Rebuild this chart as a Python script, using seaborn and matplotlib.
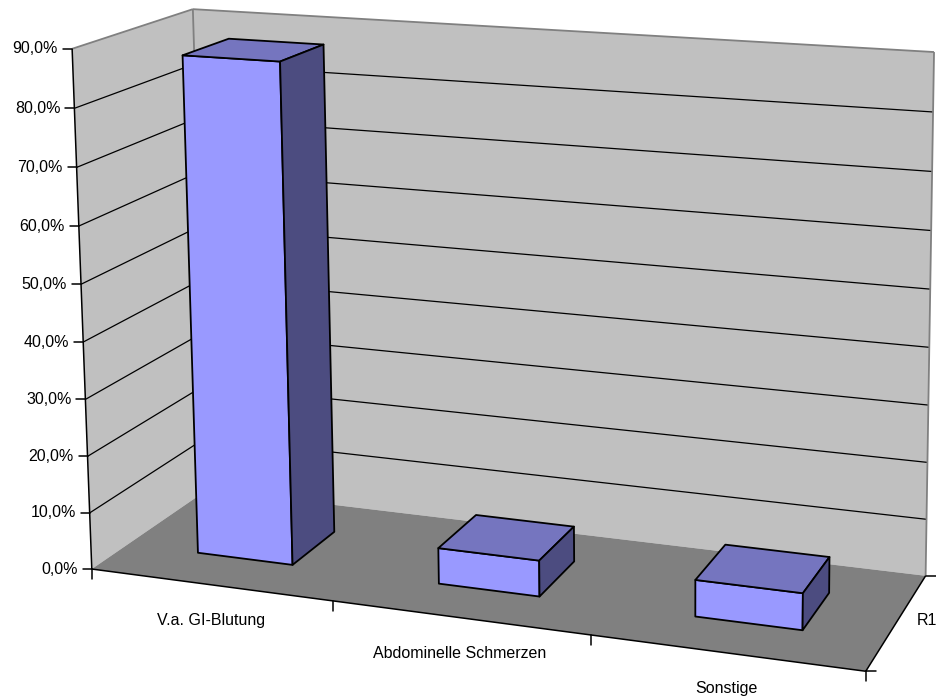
import numpy as np
import matplotlib
matplotlib.use("Agg")
import matplotlib.pyplot as plt
import seaborn as sns

# --- data -------------------------------------------------------------
categories = ["V.a. GI-Blutung", "Abdominelle Schmerzen", "Sonstige"]
values = [87.5, 6.25, 6.25]          # percent
series_name = "R1"
y_ticks = [0, 10, 20, 30, 40, 50, 60, 70, 80, 90]
y_max = 90

# --- 3D view: world (category, depth, value/100) -> pixel --------------
VIEW = np.array([
    [2.313880e+02, 1.332546e+02, -2.445830e+01, 9.179123e+01],
    [1.344831e+01, -3.757064e+01, -5.798142e+02, 5.690406e+02],
    [-3.072887e-02, 8.525998e-02, -3.611909e-02, 1.0],
])


def proj(pts):
    pts = np.atleast_2d(np.asarray(pts, float))
    h = np.c_[pts, np.ones(len(pts))] @ VIEW.T
    return h[:, :2] / h[:, 2:3]


n = len(categories)
zmax = y_max / 100
bar_w = 0.4         # bar width within one category slot
bar_d = (0.3, 0.7)  # bar depth range within the floor

WALL = "#C0C0C0"
FLOOR = "#808080"
EDGE_GRAY = "#808080"
FRONT = "#9999FF"
TOP = "#7575BF"
SIDE = "#4C4C80"

sns.set_theme(style="white")
plt.rcParams["font.family"] = ["Liberation Sans", "DejaVu Sans"]

fig = plt.figure(figsize=(9.36, 7), dpi=100)
ax = fig.add_axes([0, 0, 1, 1])
ax.set_xlim(0, 936)
ax.set_ylim(700, 0)
ax.axis("off")


def face(corners, color, z=1, **kw):
    xy = proj(corners)
    ax.fill(xy[:, 0], xy[:, 1], color=color, zorder=z, **kw)


def seg(a, b, z=2, **kw):
    xy = proj([a, b])
    ax.plot(xy[:, 0], xy[:, 1], solid_capstyle="butt", zorder=z, **kw)


# walls and floor
face([(0, 0, 0), (0, 1, 0), (0, 1, zmax), (0, 0, zmax)], WALL, lw=0)
face([(0, 1, 0), (n, 1, 0), (n, 1, zmax), (0, 1, zmax)], WALL, lw=0)
face([(0, 0, 0), (n, 0, 0), (n, 1, 0), (0, 1, 0)], FLOOR, lw=0)

# gridlines
for t in y_ticks[1:-1]:
    zt = t / 100
    seg((0, 0, zt), (0, 1, zt), color="black", lw=0.9)
    seg((0, 1, zt), (n, 1, zt), color="black", lw=0.9)

# wall outlines
for a, b in [((0, 0, zmax), (0, 1, zmax)), ((0, 1, zmax), (n, 1, zmax)),
             ((0, 1, 0), (0, 1, zmax)), ((n, 1, 0), (n, 1, zmax))]:
    seg(a, b, z=3, color=EDGE_GRAY, lw=1.3)

# axes lines
seg((0, 0, 0), (0, 0, zmax), z=4, color="black", lw=1.1)
seg((0, 0, 0), (n, 0, 0), z=4, color="black", lw=1.1)
seg((n, 0, 0), (n, 1, 0), z=4, color="black", lw=1.1)

# value axis ticks and labels
for t in y_ticks:
    x0, y0 = proj((0, 0, t / 100))[0]
    ax.plot([x0 - 9, x0], [y0, y0], color="black", lw=1.1, zorder=4)
    ax.text(x0 - 14, y0, f"{t:.1f}%".replace(".", ","), ha="right",
            va="center", fontsize=11.5, color="black")

# category axis ticks
for i in range(n + 1):
    x0, y0 = proj((i, 0, 0))[0]
    ax.plot([x0, x0], [y0, y0 + 10], color="black", lw=1.1, zorder=4)

# series axis ticks
for d in (0, 1):
    x0, y0 = proj((n, d, 0))[0]
    ax.plot([x0, x0 + 10], [y0, y0], color="black", lw=1.1, zorder=4)

# bars
d0, d1 = bar_d
for i, v in enumerate(values):
    zv = v / 100
    xl, xr = i + 0.5 - bar_w / 2, i + 0.5 + bar_w / 2
    kw = dict(z=6, ec="black", lw=1.3, joinstyle="round")
    face([(xl, d0, 0), (xr, d0, 0), (xr, d0, zv), (xl, d0, zv)], FRONT, **kw)
    face([(xl, d0, zv), (xr, d0, zv), (xr, d1, zv), (xl, d1, zv)], TOP, **kw)
    face([(xr, d0, 0), (xr, d1, 0), (xr, d1, zv), (xr, d0, zv)], SIDE, **kw)

# category labels
for i, name in enumerate(categories):
    x0, y0 = proj((i + 0.5, 0, 0))[0]
    ax.text(x0, y0 + 36, name, ha="center", va="center", fontsize=11.5,
            color="black")

# series label
x0, y0 = proj((n, 0.5, 0))[0]
ax.text(x0 + 20, y0 - 1, series_name, ha="left", va="center", fontsize=11.5,
        color="black")

fig.savefig("out.png", dpi=100)
